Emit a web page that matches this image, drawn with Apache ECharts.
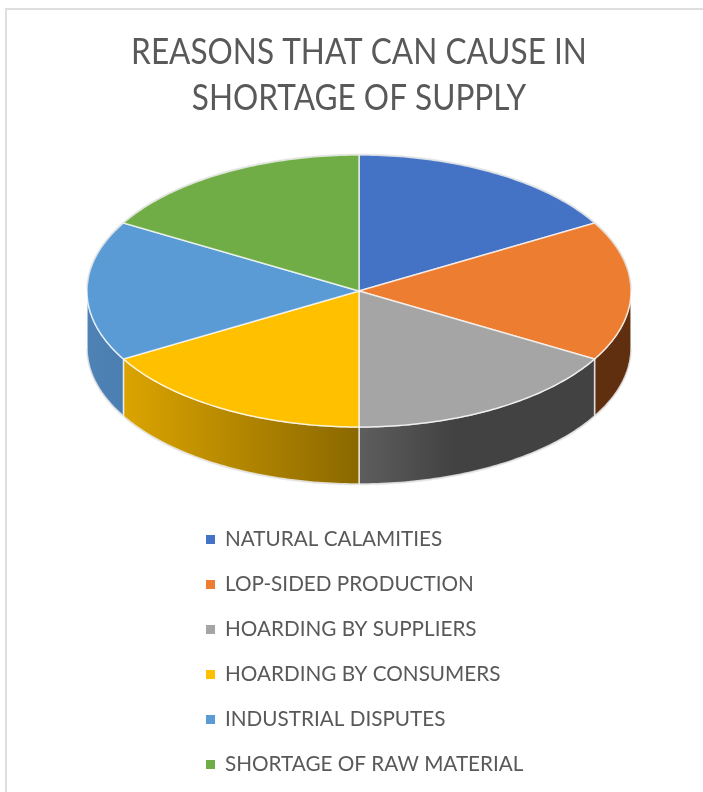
<!DOCTYPE html>
<html>
<head>
<meta charset="utf-8">
<style>html,body{margin:0;padding:0;background:#fff}#chart{width:703px;height:792px}</style>
<script src="https://cdn.jsdelivr.net/npm/echarts@6/dist/echarts.min.js"></script>
</head>
<body>
<div id="chart"></div>
<script>
// Reasons and their shares of the pie (all six are equal)
const reasons = ['NATURAL CALAMITIES', 'LOP-SIDED PRODUCTION', 'HOARDING BY SUPPLIERS',
  'HOARDING BY CONSUMERS', 'INDUSTRIAL DISPUTES', 'SHORTAGE OF RAW MATERIAL'];
const shares = [1, 1, 1, 1, 1, 1];
const topColors = ['#4472C4', '#ED7D31', '#A5A5A5', '#FFC000', '#5B9BD5', '#70AD47'];
// Rim shading, left to right, for the slices that show a wall
const rimStart = ['#2f5597', '#5f2f10', '#5e5e5e', '#dba400', '#4f83b6', '#4b7a2f'];
const rimEnd = ['#2f5597', '#5f2f10', '#424242', '#8a6800', '#4a7db0', '#4b7a2f'];

const titleText = 'REASONS THAT CAN CAUSE IN\nSHORTAGE OF SUPPLY';

const total = shares.reduce((a, b) => a + b, 0);
const startAngle = i => shares.slice(0, i).reduce((a, b) => a + b, 0) / total * Math.PI * 2;

// Tilted disc: ellipse for the top face, vertical offset for the rim
const disc = { cx: 359, cy: 291, rx: 272, ry: 136, depth: 57 };
const rimPoint = (a, dy) => [disc.cx + disc.rx * Math.sin(a), disc.cy - disc.ry * Math.cos(a) + dy];

function arcPoints(a0, a1, dy) {
  const n = Math.max(2, Math.ceil((a1 - a0) * 60));
  const pts = [];
  for (let k = 0; k <= n; k++) pts.push(rimPoint(a0 + (a1 - a0) * k / n, dy));
  return pts;
}

const edge = 'rgba(255,255,255,0.72)';
const halo = 'rgba(200,200,200,0.45)';

function renderSlice(index, params, api) {
  const a0 = startAngle(index);
  const a1 = a0 + api.value(0) / total * Math.PI * 2;
  const children = [];

  // The rim only shows on the near half of the disc
  const v0 = Math.max(a0, Math.PI / 2);
  const v1 = Math.min(a1, Math.PI * 1.5);
  if (v1 > v0) {
    const upper = arcPoints(v0, v1, 0);
    const lower = arcPoints(v0, v1, disc.depth).reverse();
    children.push({
      type: 'polygon',
      shape: { points: upper.concat(lower) },
      style: {
        fill: new echarts.graphic.LinearGradient(0, 0, 1, 0, [
          { offset: 0, color: rimStart[index] },
          { offset: index === 2 ? 0.4 : 1, color: rimEnd[index] },
          { offset: 1, color: rimEnd[index] }
        ]),
        stroke: edge,
        lineWidth: 1.5
      }
    });
    children.push({
      type: 'polyline',
      shape: { points: arcPoints(v0, v1, disc.depth + 0.5) },
      style: { fill: 'none', stroke: halo, lineWidth: 1.5 }
    });
  }

  children.push({
    type: 'polygon',
    shape: { points: [[disc.cx, disc.cy]].concat(arcPoints(a0, a1, 0)) },
    style: { fill: topColors[index], stroke: edge, lineWidth: 1.5 }
  });

  // Soft outline along the far half of the disc
  const far = [[a0, Math.min(a1, Math.PI / 2)], [Math.max(a0, Math.PI * 1.5), a1]];
  far.forEach(([f0, f1]) => {
    if (f1 > f0) {
      children.push({
        type: 'polyline',
        shape: { points: arcPoints(f0, f1, -0.5) },
        style: { fill: 'none', stroke: halo, lineWidth: 1.5 }
      });
    }
  });
  return { type: 'group', children };
}

const sliceSeries = reasons.map((name, i) => ({
  type: 'custom',
  name,
  coordinateSystem: 'none',
  silent: true,
  itemStyle: { color: topColors[i] },
  data: [[shares[i]]],
  renderItem: (params, api) => renderSlice(i, params, api)
}));

const chart = echarts.init(document.getElementById('chart'), null, { renderer: 'canvas' });
chart.setOption({
  animation: false,
  backgroundColor: '#ffffff',
  legend: {
    orient: 'vertical',
    left: 201,
    top: 524,
    itemWidth: 9,
    itemHeight: 9,
    itemGap: 24,
    icon: 'rect',
    selectedMode: false,
    data: reasons,
    textStyle: { fontFamily: 'Lato', fontSize: 20.7, color: '#595959', height: 20, lineHeight: 20, padding: [0, 0, 0, 5] }
  },
  graphic: [
    { type: 'line', silent: true, shape: { x1: 6, y1: 8, x2: 6, y2: 792 }, style: { stroke: '#dedede', lineWidth: 2 } },
    { type: 'line', silent: true, shape: { x1: 5, y1: 9, x2: 703, y2: 9 }, style: { stroke: '#dedede', lineWidth: 2 } },
    {
      // Condensed heading, two centred lines
      type: 'text',
      silent: true,
      x: 359,
      y: 75,
      scaleX: 0.853,
      style: {
        text: titleText,
        align: 'center',
        verticalAlign: 'middle',
        fontFamily: 'Lato',
        fontSize: 37,
        lineHeight: 46,
        fill: '#595959'
      }
    }
  ],
  series: sliceSeries
});
</script>
</body>
</html>
